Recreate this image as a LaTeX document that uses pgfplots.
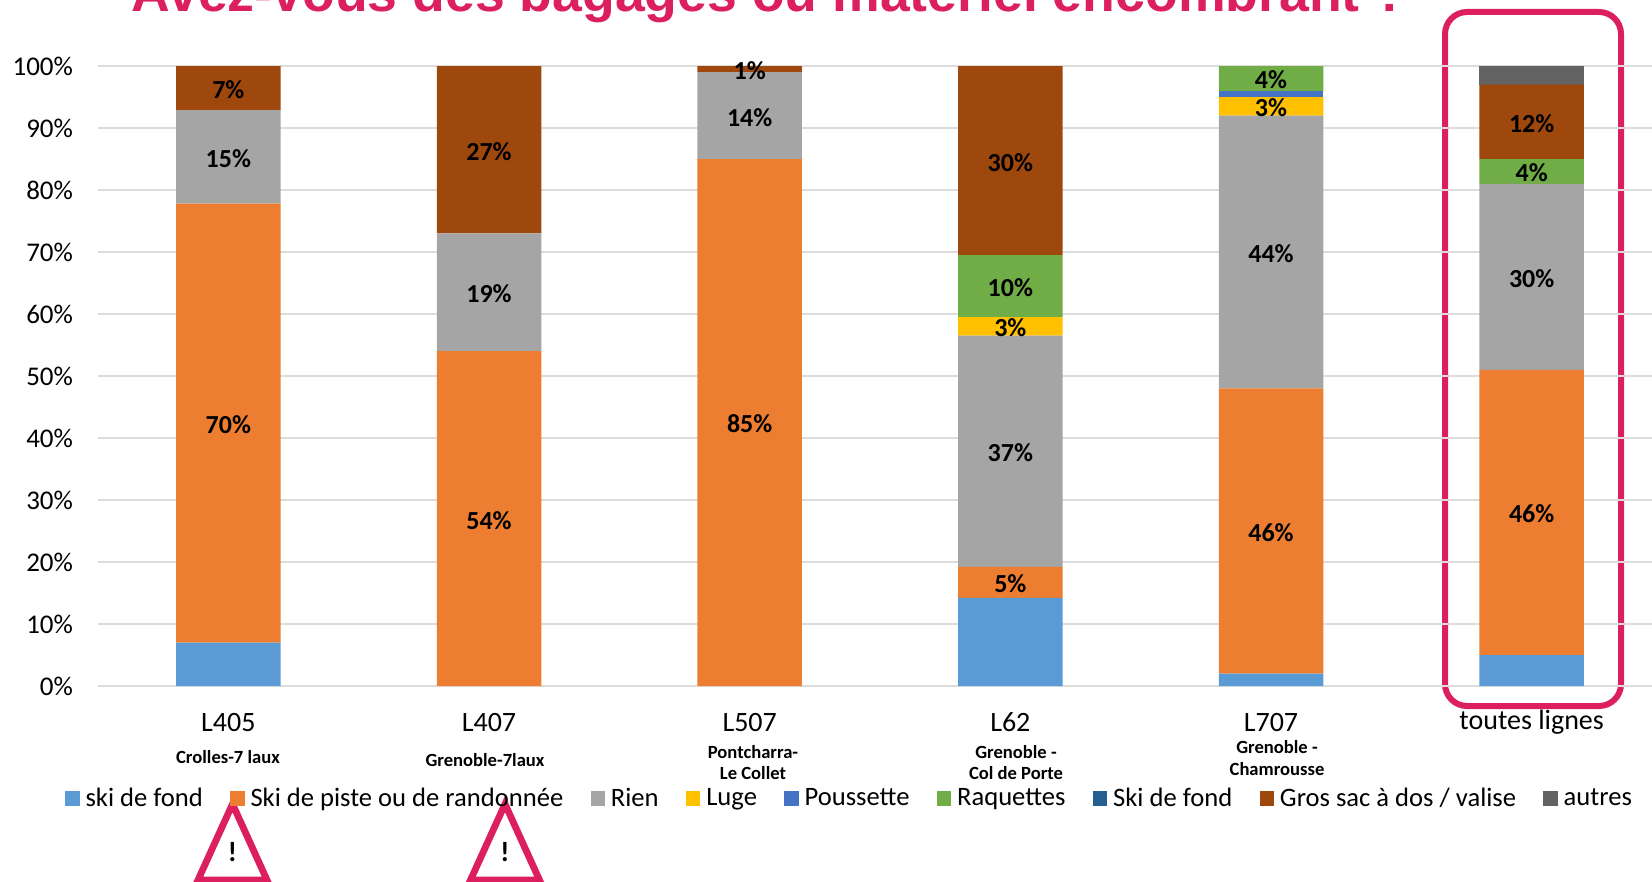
\documentclass[border=0pt]{standalone}
\usepackage{fontspec}
\setmainfont{Carlito}
\newfontfamily\arialfont{Liberation Sans}
\usepackage{pgfplots}
\usepackage{pgfplotstable}
\pgfplotsset{compat=1.18}
\definecolor{cA}{HTML}{5B9BD5}
\definecolor{cB}{HTML}{ED7D31}
\definecolor{cC}{HTML}{A5A5A5}
\definecolor{cD}{HTML}{FFC000}
\definecolor{cE}{HTML}{4472C4}
\definecolor{cF}{HTML}{70AD47}
\definecolor{cG}{HTML}{255E91}
\definecolor{cH}{HTML}{9E480E}
\definecolor{cI}{HTML}{636363}
\definecolor{pink}{HTML}{DC1F5F}
\definecolor{gridc}{HTML}{DCDCDC}
\pgfplotstableread{
x  a    la b    lb c    lc d  ld e  le f  lf g lg h    lh i li
0  7    0  70.8 70 15.1 15 0  0  0  0  0  0  0 0  7.1  7  0 0
1  0    0  54   54 19   19 0  0  0  0  0  0  0 0  27   27 0 0
2  0    0  85   85 14   14 0  0  0  0  0  0  0 0  1    1  0 0
3  14.2 0  5    5  37.3 37 3  3  0  0  10 10 0 0  30.5 30 0 0
4  2    0  46   46 44   44 3  3  1  0  4  4  0 0  0    0  0 0
5  5    0  46   46 30   30 0  0  0  0  4  4  0 0  12   12 3 0
}\data
\newcommand{\seg}[3]{\addplot[fill=#1,draw=none] table[x=x,y=#2,meta=#3]{\data};}
\begin{document}
\begin{tikzpicture}[x=0.5pt,y=-0.5pt]
\useasboundingbox (0,0) rectangle (1652,882);
\clip (0,0) rectangle (1652,882);
% title
\node[anchor=base,font=\arialfont\bfseries\fontsize{26.8}{30}\selectfont,text=pink] at (769.5,12) {Avez-vous des bagages ou matériel encombrant~?};
% highlight frame and warning signs sit below the axis
\draw[pink,line width=3pt,rounded corners=11pt] (1445,12) rectangle (1621,706);
\draw[pink,line width=3.4pt,line join=miter] (232.5,804) -- (198,880) -- (267,880) -- cycle;
\draw[pink,line width=3.4pt,line join=miter] (505,804) -- (470.5,880) -- (539.5,880) -- cycle;
\node[font=\bfseries\fontsize{14}{16}\selectfont] at (232.5,852) {!};
\node[font=\bfseries\fontsize{14}{16}\selectfont] at (505,852) {!};
\begin{axis}[
  at={(49pt,-343pt)},anchor=south west,
  scale only axis,width=782pt,height=310pt,
  ybar stacked,bar width=52.25pt,
  xmin=-0.5,xmax=5.5,ymin=0,ymax=100,
  xtick={0,1,2,3,4,5},
  xticklabels={L405,L407,L507,L62,L707,toutes lignes},
  ytick={0,10,...,100},
  yticklabel={\pgfmathprintnumber{\tick}\%},
  /pgf/number format/assume math mode=true,
  major tick length=0pt,
  axis line style={draw=none},
  ymajorgrids,
  grid style={gridc,line width=1pt},
  yticklabel style={font=\fontsize{13.5}{15}\selectfont,anchor=east,xshift=-9pt},
  xticklabel style={font=\fontsize{14}{15}\selectfont,anchor=center,yshift=-18pt},
  point meta=explicit symbolic,
  nodes near coords={\ifnum\pgfplotspointmeta=0 \else\pgfplotspointmeta\%\fi},
  every node near coord/.append style={anchor=center,inner sep=0pt,yshift=-0.8pt,
    font=\bfseries\fontsize{13}{15}\selectfont,text=black},
  area legend,
  legend image code/.code={\path[#1,draw=none] (0pt,-3.5pt) rectangle (7.2pt,3.7pt);},
  legend columns=-1,
  legend style={at={(-0.0251,-0.182)},anchor=west,draw=none,fill=none,
    font=\fontsize{13.3}{15}\selectfont,
    /tikz/every odd column/.append style={column sep=1pt},
    /tikz/every even column/.append style={column sep=11.6pt}},
]
\seg{cA}{a}{la}
\seg{cB}{b}{lb}
\seg{cC}{c}{lc}
\seg{cD}{d}{ld}
\seg{cE}{e}{le}
\seg{cF}{f}{lf}
\seg{cG}{g}{lg}
\seg{cH}{h}{lh}
\seg{cI}{i}{li}
\legend{ski de fond,Ski de piste ou de randonnée,Rien,Luge,Poussette,Raquettes,Ski de fond,Gros sac à dos / valise,autres}
\end{axis}
\begin{scope}[every node/.style={font=\bfseries\fontsize{9.3}{10}\selectfont,inner sep=0pt}]
\node at (228,757) {Crolles-7 laux};
\node at (485,760) {Grenoble-7laux};
\node at (753,752) {Pontcharra-};
\node at (753,773) {Le Collet};
\node at (1016,752) {Grenoble -};
\node at (1016,773) {Col de Porte};
\node at (1277,747) {Grenoble -};
\node at (1277,769) {Chamrousse};
\end{scope}
\end{tikzpicture}
\end{document}
